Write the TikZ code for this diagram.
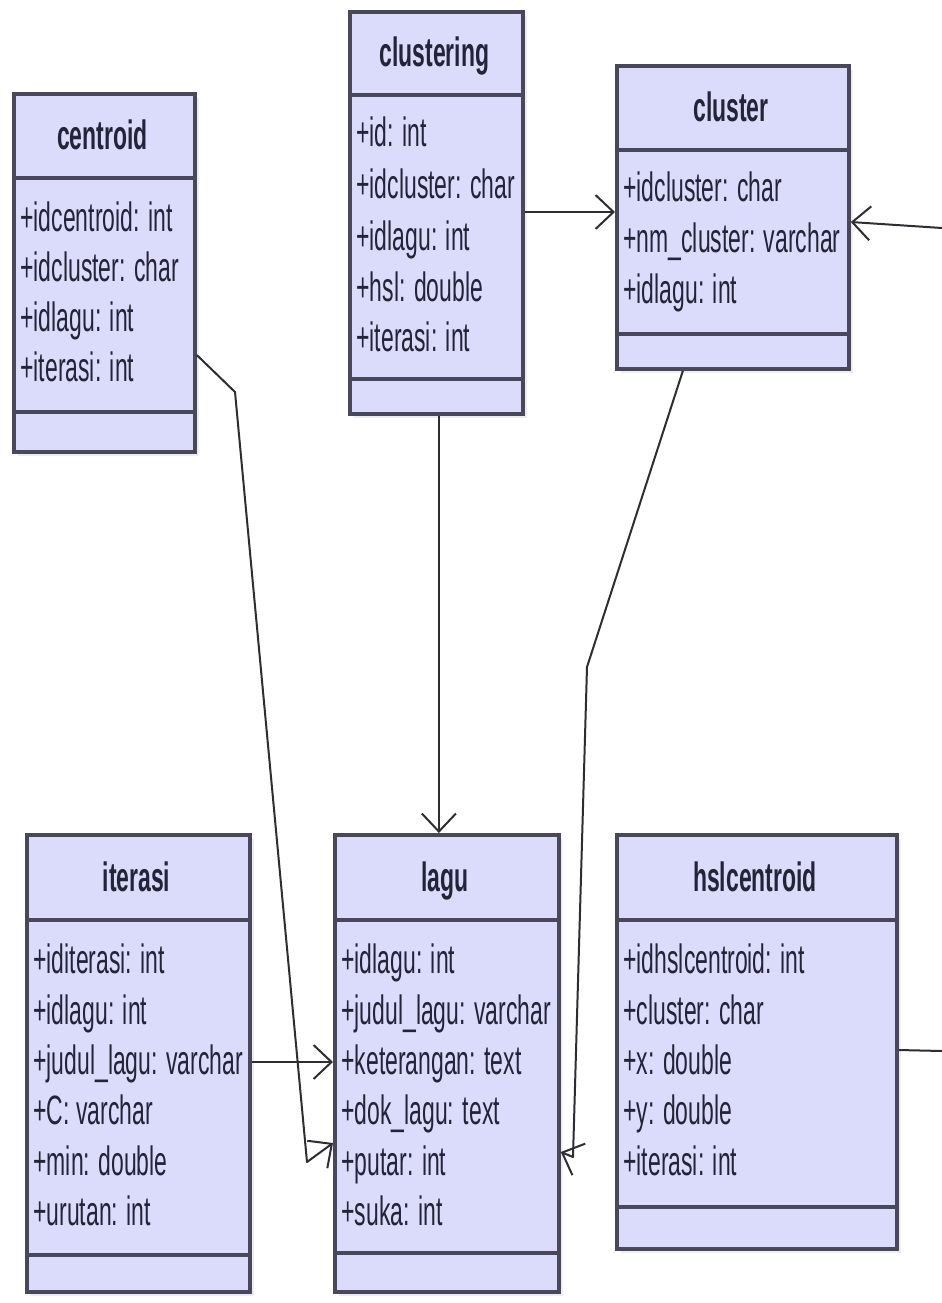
\documentclass[tikz,border=0pt]{standalone}
\usepackage{fontspec}
\setmainfont{Liberation Sans}[FakeStretch=0.56]
\usetikzlibrary{arrows.meta}

\definecolor{classfill}{RGB}{219,219,251}
\definecolor{classline}{RGB}{72,72,90}
\definecolor{classtext}{RGB}{36,36,56}
\definecolor{wire}{RGB}{45,45,50}

\tikzset{
  classbox/.style={draw=classline, line width=1.9pt, fill=classfill, rectangle,
    inner sep=0pt, anchor=north west},
  sepline/.style={draw=classline, line width=2.4pt},
  classshadow/.style={fill=black!7},
  title/.style={font=\fontsize{20.5pt}{24pt}\selectfont\bfseries, text=classtext,
    anchor=base, inner sep=0pt},
  attr/.style={font=\fontsize{20.5pt}{24pt}\selectfont, text=classtext,
    anchor=base west, inner sep=0pt},
  assoc/.style={draw=wire, line width=1pt, line join=round,
    -{Straight Barb[length=9pt,width=17pt,line width=1pt]}},
  plainwire/.style={draw=wire, line width=1pt},
}

% #1 name, #2 left, #3 top, #4 right, #5 bottom,
% #6 title separator, #7 operations separator, #8 title baseline, #9 title
\newcommand\umlclass[9]{%
  \fill[classshadow] (#2+6,#3+6) rectangle (#4+6,#5+6);
  \node[classbox, minimum width={(#4-#2)*0.5pt}, minimum height={(#5-#3)*0.5pt}]
    (#1) at (#2,#3) {};
  \draw[sepline] (#2,#6) -- (#4,#6);
  \draw[sepline] (#2,#7) -- (#4,#7);
  \node[title] (#1-title) at ({(#2+#4)/2},#8) {#9};
}

\begin{document}
\begin{tikzpicture}[x=0.5pt, y=-0.5pt]
  \useasboundingbox (0,0) rectangle (942,1303);
  \fill[white] (0,0) rectangle (942,1303);

  % ---- top row ----
  \umlclass{centroid}{12}{92}{193}{450}{178}{412}{149}{centroid}
  \node[attr] (centroid-a1) at (20,231) {+idcentroid: int};
  \node[attr] (centroid-a2) at (20,281) {+idcluster: char};
  \node[attr] (centroid-a3) at (20,331) {+idlagu: int};
  \node[attr] (centroid-a4) at (20,381) {+iterasi: int};

  \umlclass{clustering}{348}{10}{521}{412}{95}{379}{66}{clustering}
  \node[attr] (clustering-a1) at (356,146) {+id: int};
  \node[attr] (clustering-a2) at (356,198) {+idcluster: char};
  \node[attr] (clustering-a3) at (356,250) {+idlagu: int};
  \node[attr] (clustering-a4) at (356,301) {+hsl: double};
  \node[attr] (clustering-a5) at (356,351) {+iterasi: int};

  \umlclass{cluster}{615}{64}{847}{367}{150}{334}{121}{cluster}
  \node[attr] (cluster-a1) at (623,201) {+idcluster: char};
  \node[attr] (cluster-a2) at (623,252) {+nm\_cluster: varchar};
  \node[attr] (cluster-a3) at (623,303) {+idlagu: int};

  % ---- bottom row ----
  \umlclass{iterasi}{25}{833}{248}{1290}{920}{1255}{891}{iterasi}
  \node[attr] (iterasi-a1) at (33,973) {+iditerasi: int};
  \node[attr] (iterasi-a2) at (33,1024) {+idlagu: int};
  \node[attr] (iterasi-a3) at (33,1074) {+judul\_lagu: varchar};
  \node[attr] (iterasi-a4) at (33,1124) {+C: varchar};
  \node[attr] (iterasi-a5) at (33,1175) {+min: double};
  \node[attr] (iterasi-a6) at (33,1225) {+urutan: int};

  \umlclass{lagu}{333}{833}{557}{1290}{920}{1253}{891}{lagu}
  \node[attr] (lagu-a1) at (341,973) {+idlagu: int};
  \node[attr] (lagu-a2) at (341,1024) {+judul\_lagu: varchar};
  \node[attr] (lagu-a3) at (341,1074) {+keterangan: text};
  \node[attr] (lagu-a4) at (341,1124) {+dok\_lagu: text};
  \node[attr] (lagu-a5) at (341,1175) {+putar: int};
  \node[attr] (lagu-a6) at (341,1225) {+suka: int};

  \umlclass{hslcentroid}{615}{833}{895}{1247}{920}{1207}{891}{hslcentroid}
  \node[attr] (hslcentroid-a1) at (623,973) {+idhslcentroid: int};
  \node[attr] (hslcentroid-a2) at (623,1024) {+cluster: char};
  \node[attr] (hslcentroid-a3) at (623,1074) {+x: double};
  \node[attr] (hslcentroid-a4) at (623,1124) {+y: double};
  \node[attr] (hslcentroid-a5) at (623,1175) {+iterasi: int};

  % ---- connectors ----
  \coordinate (offR1) at (942,228);
  \coordinate (offR2) at (942,1051);
  \coordinate (bendA) at (587,667);
  \coordinate (bendB) at (573,1157);
  \coordinate (bendC) at (235,392);
  \coordinate (bendD) at (307,1162);

  \draw[assoc] ([yshift=-101pt]clustering.north east) -- ([yshift=-74pt]cluster.north west);
  \draw[assoc] (offR1) -- ([yshift=-79pt]cluster.north east);
  \draw[plainwire] ([yshift=-108.5pt]hslcentroid.north east) -- (offR2);
  \draw[assoc] ([xshift=1.25pt]clustering.south) -- ([xshift=1.25pt]clustering.south |- lagu.north);
  \draw[assoc] ([xshift=-25pt]cluster.south) -- (bendA) -- (bendB)
    -- ([yshift=-159.5pt]lagu.north east);
  \draw[assoc] ([yshift=-131.5pt]centroid.north east) -- (bendC) -- (bendD)
    -- ([yshift=-155pt]lagu.north west);
  \draw[assoc] ([yshift=-114.5pt]iterasi.north east) -- ([yshift=-114.5pt]lagu.north west);
\end{tikzpicture}
\end{document}
